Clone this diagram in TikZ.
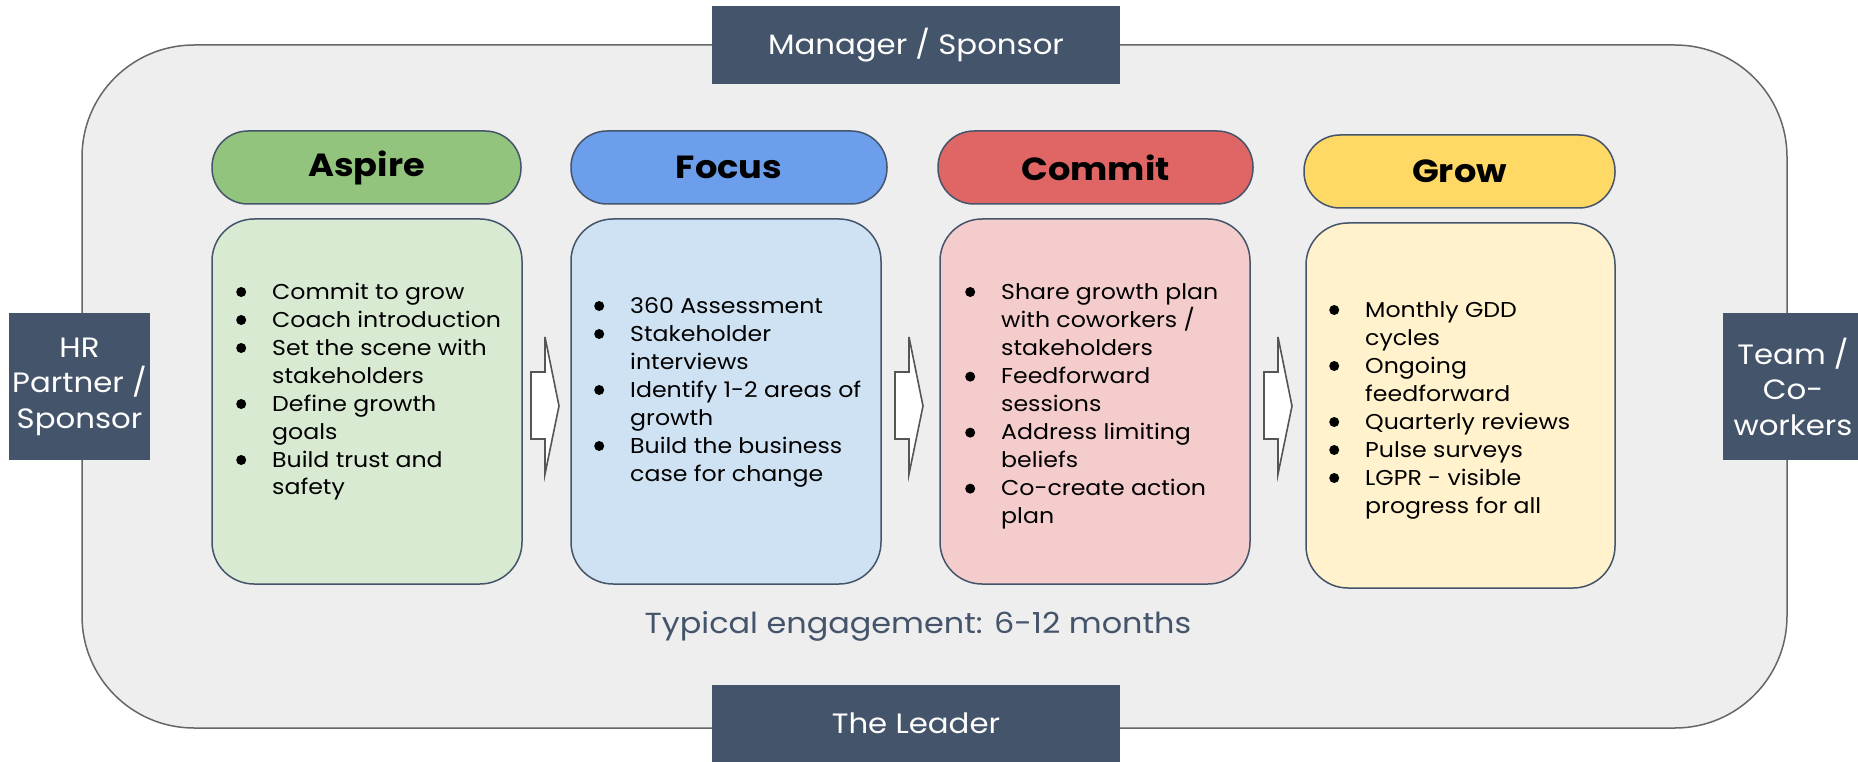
\documentclass[tikz,border=0pt]{standalone}
\usepackage{fontspec}
\setmainfont{Poppins}[FakeStretch=1.1]
\usetikzlibrary{calc}
\definecolor{slate}{HTML}{44546A}
\definecolor{framegray}{HTML}{EEEEEE}
\definecolor{frameline}{HTML}{666666}
\definecolor{arrowline}{HTML}{555555}
\definecolor{aspH}{HTML}{93C47D}\definecolor{aspB}{HTML}{D9EAD3}
\definecolor{focH}{HTML}{6D9EEB}\definecolor{focB}{HTML}{CFE2F3}
\definecolor{comH}{HTML}{E06666}\definecolor{comB}{HTML}{F4CCCC}
\definecolor{groH}{HTML}{FFD966}\definecolor{groB}{HTML}{FFF2CC}
\newcommand\blt{\tikz[baseline=0pt]\fill (0pt,7pt) circle[radius=5pt];}
\newcommand\bl[1]{\makebox[36pt][l]{\blt}&#1}
\tikzset{
  frame/.style={draw=frameline, line width=1.5pt, fill=framegray, rounded corners=112pt, inner sep=0pt},
  darkbox/.style={fill=slate, text=white, inner sep=0pt, align=center, font=\fontsize{28}{35.5}\selectfont},
  header/.style={draw=slate, line width=1.5pt, rounded corners=36pt, inner sep=0pt, font=\fontsize{32}{38}\selectfont\bfseries},
  body/.style={draw=slate, line width=1.5pt, rounded corners=42pt, inner sep=0pt, minimum width=310pt, minimum height=365pt},
  items/.style={anchor=base west, inner sep=0pt, font=\fontsize{21.5}{28}\selectfont},
  blockarrow/.style={draw=arrowline, line width=1.6pt, fill=white},
}
\newcommand\blockarrow[2]{% shaft left x, tip x
  \draw[blockarrow] (#1,372) -- ({#2-14},372) -- ({#2-14},337) -- (#2,406) -- ({#2-14},474) -- ({#2-14},439) -- (#1,439) -- cycle;}
\begin{document}
\begin{tikzpicture}[x=1pt,y=-1pt]
\useasboundingbox (0,0) rectangle (1858,762);
% outer frame
\node[frame, minimum width=1705pt, minimum height=683pt] (frm) at (934.5,386.5) {};
% stakeholder boxes
\node[darkbox, minimum width=408pt, minimum height=78pt] (mgr) at (916,45) {Manager / Sponsor};
\node[darkbox, minimum width=408pt, minimum height=77pt] (ldr) at (916,723.5) {The Leader};
\node[darkbox, minimum width=141pt, minimum height=147pt] (hr) at (79.5,386.5) {HR\\Partner /\\Sponsor};
\node[darkbox, minimum width=140pt, minimum height=147pt] (team) at (1793,386.5) {Team /\\Co-\\workers};
% headers
\node[header, fill=aspH, minimum width=309pt, minimum height=73pt] (aH) at (366.5,167.5) {Aspire};
\node[header, fill=focH, minimum width=316pt, minimum height=73pt] (fH) at (729,167.5) {Focus};
\node[header, fill=comH, minimum width=315pt, minimum height=73pt] (cH) at (1095.5,167.5) {Commit};
\node[header, fill=groH, minimum width=311pt, minimum height=73pt] (gH) at (1459.5,171.5) {Grow};
% bodies
\node[body, fill=aspB] (aB) at (367,401.5) {};
\node[body, fill=focB] (fB) at (726,401.5) {};
\node[body, fill=comB] (cB) at (1095,401.5) {};
\node[body, fill=groB, minimum width=309pt] (gB) at (1460.5,405.5) {};
% arrows
\blockarrow{531}{559}
\blockarrow{895}{923}
\blockarrow{1264}{1292}
% items
\node[items] (aT) at (236,299) {\begin{tabular}[t]{@{}l@{}l@{}}
\bl{Commit to grow}\\
\bl{Coach introduction}\\
\bl{Set the scene with}\\
&stakeholders\\
\bl{Define growth}\\
&goals\\
\bl{Build trust and}\\
&safety
\end{tabular}};
\node[items] (fT) at (594,313) {\begin{tabular}[t]{@{}l@{}l@{}}
\bl{360 Assessment}\\
\bl{Stakeholder}\\
&interviews\\
\bl{Identify 1-2 areas of}\\
&growth\\
\bl{Build the business}\\
&case for change
\end{tabular}};
\node[items] (cT) at (965,299) {\begin{tabular}[t]{@{}l@{}l@{}}
\bl{Share growth plan}\\
&with coworkers /\\
&stakeholders\\
\bl{Feedforward}\\
&sessions\\
\bl{Address limiting}\\
&beliefs\\
\bl{Co-create action}\\
&plan
\end{tabular}};
\node[items] (gT) at (1329,317) {\begin{tabular}[t]{@{}l@{}l@{}}
\bl{Monthly GDD}\\
&cycles\\
\bl{Ongoing}\\
&feedforward\\
\bl{Quarterly reviews}\\
\bl{Pulse surveys}\\
\bl{LGPR - visible}\\
&progress for all
\end{tabular}};
\node[text=slate, inner sep=0pt, font=\fontsize{29}{35}\selectfont] (dur) at (918,626) {Typical engagement: 6-12 months};
\end{tikzpicture}
\end{document}
